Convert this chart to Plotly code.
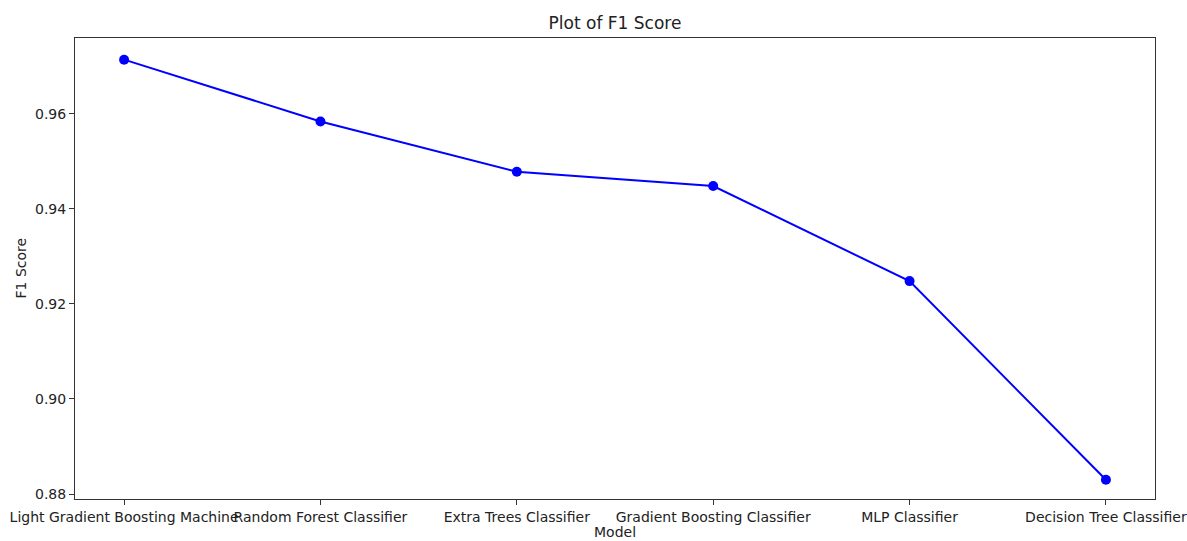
import plotly.graph_objects as go

models = ["Light Gradient Boosting Machine", "Random Forest Classifier", "Extra Trees Classifier",
          "Gradient Boosting Classifier", "MLP Classifier", "Decision Tree Classifier"]
f1_scores = [0.9714, 0.9584, 0.9478, 0.9448, 0.9248, 0.8830]
y_ticks = [0.88, 0.90, 0.92, 0.94, 0.96]

fig = go.Figure()
fig.add_trace(go.Scatter(
    x=models, y=f1_scores, mode="lines+markers",
    line=dict(color="#0000ff", width=2),
    marker=dict(color="#0000ff", size=10),
    showlegend=False,
))

font = "DejaVu Sans, sans-serif"
axis_common = dict(
    showgrid=False, zeroline=False, showline=True, linecolor="#333333", linewidth=1,
    mirror=True, ticks="outside", ticklen=5, tickwidth=1, tickcolor="#333333",
    tickfont=dict(family=font, size=14, color="#222222"), automargin=False,
)
fig.update_xaxes(type="category", range=[-0.25, 5.25], tickangle=0, **axis_common)
fig.update_yaxes(range=[0.87895, 0.97596], tickvals=y_ticks,
                 ticktext=[f"{v:.2f}" for v in y_ticks], **axis_common)

fig.update_layout(
    width=1187, height=541,
    margin=dict(l=75, r=32, t=38, b=42, autoexpand=False),
    paper_bgcolor="white", plot_bgcolor="white",
    title=dict(text="Plot of F1 Score", x=(75 + 1155) / 2 / 1187, xanchor="center",
               y=1 - 23 / 541, yanchor="middle", yref="container",
               font=dict(family=font, size=17, color="#222222")),
    annotations=[
        dict(text="Model", xref="paper", yref="paper", x=0.5, y=0, yanchor="top",
             yshift=-23, showarrow=False, font=dict(family=font, size=14, color="#222222")),
        dict(text="F1 Score", xref="paper", yref="paper", x=0, y=0.5, xanchor="center",
             xshift=-55, textangle=-90, showarrow=False,
             font=dict(family=font, size=14, color="#222222")),
    ],
)

fig.write_html("out.html", config={"displayModeBar": False},
               post_script="document.body.style.margin='0';document.body.style.overflow='hidden';")
